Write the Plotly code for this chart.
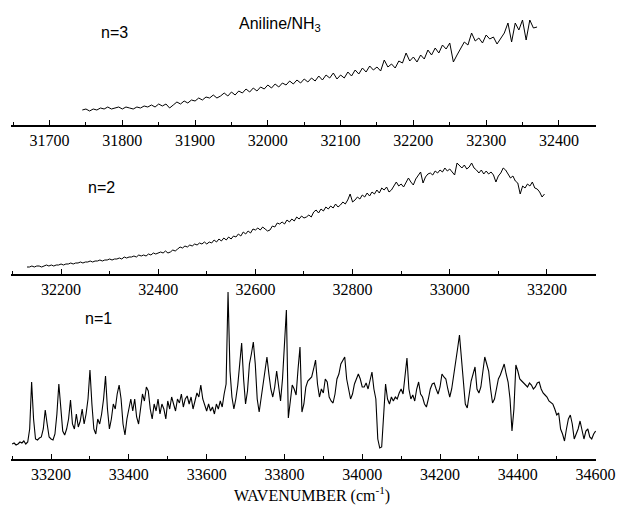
import plotly.graph_objects as go

# ---------------- data (intensities in arbitrary units) ----------------
N3_START, N3_STEP = 31745, 5
n3_signal = [
    15, 16, 14, 16, 15, 17, 16, 18, 16, 17,
    18, 16, 18, 17, 16, 18, 17, 19, 18, 20,
    18, 21, 19, 21, 17, 20, 23, 21, 24, 22,
    25, 24, 27, 25, 28, 27, 30, 27, 29, 32,
    29, 33, 30, 34, 32, 36, 33, 37, 34, 38,
    36, 40, 37, 41, 38, 42, 40, 44, 41, 45,
    42, 46, 43, 47, 44, 49, 45, 50, 47, 52,
    46, 50, 47, 53, 49, 55, 51, 57, 53, 59,
    55, 58, 54, 65, 58, 61, 57, 64, 62, 72,
    64, 68, 63, 70, 66, 75, 70, 77, 72, 80,
    76, 82, 63, 70, 76, 83, 80, 92, 84, 87,
    82, 90, 86, 88, 81, 86, 92, 102, 83, 102,
    95, 105, 85, 105, 97, 98,
]

N2_START, N2_STEP = 32130, 5
n2_signal = [
    7, 7, 8, 7, 8, 8, 7, 8, 9, 8,
    9, 8, 9, 9, 10, 9, 10, 10, 11, 10,
    11, 11, 12, 11, 12, 12, 13, 12, 13, 13,
    14, 13, 14, 14, 15, 14, 15, 15, 16, 15,
    17, 16, 17, 17, 18, 17, 19, 18, 19, 18,
    20, 19, 21, 20, 21, 22, 21, 23, 21, 22,
    24, 23, 25, 27, 26, 28, 27, 29, 28, 30,
    29, 31, 30, 32, 30, 32, 31, 34, 32, 35,
    33, 36, 34, 37, 35, 38, 37, 40, 38, 42,
    40, 43, 41, 45, 44, 46, 44, 47, 45, 43,
    44, 48, 47, 51, 50, 52, 50, 54, 52, 55,
    53, 57, 55, 58, 56, 57, 59, 57, 62, 64,
    61, 65, 63, 67, 65, 68, 66, 70, 67, 69,
    72, 70, 74, 80, 72, 74, 77, 75, 79, 77,
    81, 78, 82, 80, 84, 81, 86, 84, 87, 82,
    84, 88, 92, 88, 90, 87, 92, 96, 92, 89,
    95, 98, 102, 91, 97, 100, 101, 99, 103, 101,
    104, 102, 106, 103, 105, 102, 99, 111, 108, 106,
    109, 105, 107, 111, 106, 104, 101, 104, 100, 103,
    100, 102, 99, 92, 98, 101, 106, 104, 100, 96,
    98, 93, 91, 80, 88, 86, 90, 88, 92, 86,
    85, 82, 77, 80,
]

N1_START, N1_STEP = 33100, 5
n1_signal = [
    15, 16, 14, 15, 17, 16, 18, 15, 17, 30,
    77, 40, 20, 19, 21, 22, 30, 49, 35, 22,
    20, 19, 25, 45, 75, 50, 28, 24, 30, 40,
    59, 35, 30, 45, 32, 38, 50, 35, 45, 60,
    89, 55, 30, 25, 40, 35, 45, 60, 83, 50,
    30, 40, 55, 50, 65, 74, 60, 35, 24, 40,
    50, 60, 48, 60, 42, 35, 50, 65, 58, 72,
    68, 50, 40, 55, 48, 60, 45, 55, 50, 40,
    58, 50, 62, 55, 48, 60, 56, 65, 52, 60,
    63, 55, 62, 50, 58, 66, 62, 74, 60, 55,
    48, 55, 48, 52, 45, 55, 50, 58, 52, 65,
    75, 167, 88, 62, 50, 60, 74, 95, 116, 80,
    55, 68, 95, 105, 117, 95, 60, 47, 60, 74,
    90, 102, 85, 70, 62, 72, 88, 70, 58, 80,
    110, 149, 41, 60, 74, 70, 64, 90, 112, 47,
    55, 72, 78, 80, 82, 90, 99, 75, 62, 70,
    66, 80, 77, 62, 58, 56, 65, 80, 85, 95,
    98, 102, 80, 70, 60, 65, 75, 80, 85, 80,
    72, 72, 76, 70, 80, 87, 70, 60, 20, 11,
    12, 50, 75, 60, 55, 62, 58, 62, 60, 66,
    70, 65, 85, 101, 70, 60, 64, 58, 70, 77,
    65, 62, 55, 52, 60, 70, 75, 76, 70, 65,
    72, 85, 82, 80, 70, 62, 70, 85, 95, 110,
    124, 100, 80, 55, 51, 65, 78, 85, 92, 70,
    66, 72, 90, 102, 95, 88, 70, 56, 60, 70,
    80, 84, 90, 95, 85, 77, 60, 28, 50, 94,
    88, 80, 78, 76, 74, 72, 76, 74, 70, 72,
    76, 77, 70, 66, 64, 62, 58, 56, 55, 50,
    44, 46, 30, 25, 18, 30, 40, 44, 35, 20,
    25, 30, 38, 28, 20, 28, 30, 22, 20, 25,
    28,
]

panel_labels = ["n=3", "n=2", "n=1"]
title_text = "Aniline/NH<sub>3</sub>"
x_title = "WAVENUMBER (cm<sup>-1</sup>)"


def axis_x(start, step, values):
    return [start + step * i for i in range(len(values))]


# ---------------- layout geometry ----------------
W, H = 626, 510
ML, MR, MT, MB = 11, 21, 10, 51
PW, PH = W - ML - MR, H - MT - MB


def px(x):
    return (x - ML) / PW


def py(y):
    return (H - MB - y) / PH


SERIF = "'Liberation Serif', 'Times New Roman', serif"
SANS = "'Liberation Sans', Arial, sans-serif"

fig = go.Figure()
line = dict(color="black", width=1)
fig.add_trace(go.Scatter(x=axis_x(N3_START, N3_STEP, n3_signal), y=n3_signal,
                         mode="lines", line=line, xaxis="x", yaxis="y", showlegend=False))
fig.add_trace(go.Scatter(x=axis_x(N2_START, N2_STEP, n2_signal), y=n2_signal,
                         mode="lines", line=line, xaxis="x2", yaxis="y2", showlegend=False))
fig.add_trace(go.Scatter(x=axis_x(N1_START, N1_STEP, n1_signal), y=n1_signal,
                         mode="lines", line=dict(color="black", width=1.1),
                         xaxis="x3", yaxis="y3", showlegend=False))


def xax(rng, dtick, minor, anchor):
    return dict(
        range=rng, domain=[0, 1], anchor=anchor,
        showline=True, linecolor="black", linewidth=1.5,
        ticks="inside", ticklen=5, tickwidth=1, tickcolor="black",
        dtick=dtick, tick0=0, tickformat="d", showgrid=False, zeroline=False,
        tickfont=dict(family=SERIF, size=16, color="black"),
        minor=dict(ticks="inside", ticklen=3, tickwidth=1, tickcolor="black",
                   dtick=minor, tick0=0, showgrid=False),
        fixedrange=True,
    )


def yax(dom, rng, anchor):
    return dict(domain=dom, range=rng, anchor=anchor, visible=False,
                showgrid=False, zeroline=False, fixedrange=True)


fig.update_layout(
    width=W, height=H,
    font=dict(family=SERIF, size=16, color="black"),
    margin=dict(l=ML, r=MR, t=MT, b=MB),
    paper_bgcolor="white", plot_bgcolor="white",
    xaxis=xax([31647, 32451], 100, 50, "y"),
    yaxis=yax([py(125), py(10)], [0, 115], "x"),
    xaxis2=xax([32097, 33301], 200, 100, "y2"),
    yaxis2=yax([py(274), py(150)], [0, 124], "x2"),
    xaxis3=xax([33097, 34601], 200, 100, "y3"),
    yaxis3=yax([py(459), py(285)], [0, 174], "x3"),
)

ann = []
for text, (cx, cy) in zip(panel_labels, [(116, 33), (103, 188), (100, 318)]):
    ann.append(dict(text=text, x=px(cx), y=py(cy), xref="paper", yref="paper",
                    xanchor="center", yanchor="middle", showarrow=False,
                    font=dict(family=SANS, size=16, color="black")))
ann.append(dict(text=title_text, x=px(240), y=py(24), xref="paper", yref="paper",
                xanchor="left", yanchor="middle", showarrow=False,
                font=dict(family=SANS, size=16, color="black")))
ann.append(dict(text=x_title, x=px(317), y=py(494), xref="paper", yref="paper",
                xanchor="center", yanchor="middle", showarrow=False,
                font=dict(family=SERIF, size=16, color="black")))
fig.update_layout(annotations=ann)

fig.write_html(
    "out.html",
    config={"displayModeBar": False},
    post_script="document.body.style.margin='0';document.body.style.padding='0';",
)
